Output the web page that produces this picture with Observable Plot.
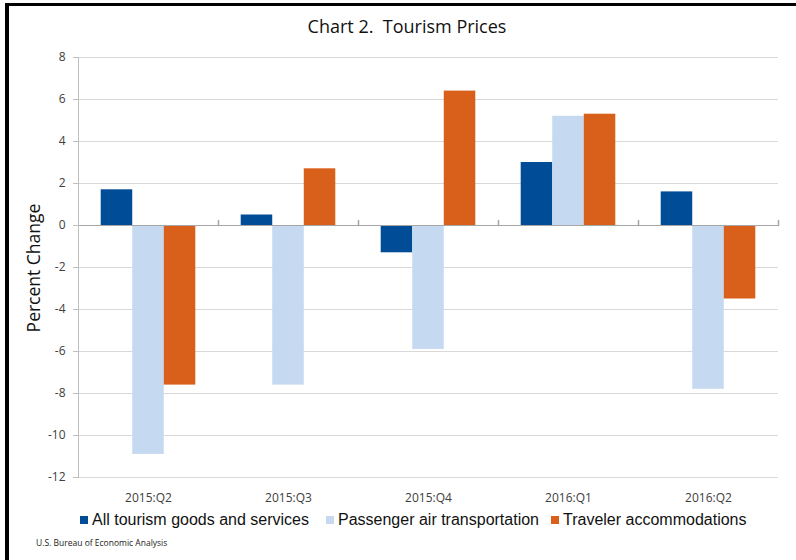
<!DOCTYPE html>
<html><head><meta charset="utf-8">
<script src="https://cdn.jsdelivr.net/npm/d3@7"></script>
<script src="https://cdn.jsdelivr.net/npm/@observablehq/plot@0.6"></script>
<style>
body{margin:0;background:#fff;}
#page{position:relative;width:796px;height:560px;overflow:hidden;font-family:"Open Sans",sans-serif;background:#fff;}
#frame{position:absolute;left:5px;top:3px;width:820px;height:600px;border-left:4px solid #000;border-top:3px solid #000;box-sizing:border-box;}
#title{position:absolute;top:14px;left:0;width:814px;text-align:center;font-size:18px;color:#111;white-space:pre;}
#ylabel{position:absolute;left:33px;top:268px;transform:translate(-50%,-50%) rotate(-90deg);font-size:17.5px;color:#111;white-space:nowrap;}
#chart{position:absolute;left:0;top:40px;}
#legend{position:absolute;top:511px;left:0;width:796px;height:22px;font-family:"Liberation Sans",Arial,sans-serif;font-size:16px;color:#111;}
#legend .item{position:absolute;top:0;white-space:nowrap;}
#legend .sw{display:inline-block;width:8px;height:8px;margin-right:4px;vertical-align:1px;}
#caption{position:absolute;left:36px;top:537px;font-size:8.5px;color:#222;white-space:nowrap;}
</style>
</head><body>
<div id="page">
  <div id="frame"></div>
  <div id="title"></div>
  <div id="ylabel"></div>
  <div id="chart"></div>
  <div id="legend"></div>
  <div id="caption"></div>
</div>
<script>
const titleText = "Chart 2.  Tourism Prices";
const yLabel = "Percent Change";
const caption = "U.S. Bureau of Economic Analysis";
const quarters = ["2015:Q2", "2015:Q3", "2015:Q4", "2016:Q1", "2016:Q2"];
const series = ["All tourism goods and services", "Passenger air transportation", "Traveler accommodations"];
const colors = ["#004C97", "#C5D9F0", "#D9601A"];
const allTourism = [1.7, 0.5, -1.3, 3.0, 1.6];
const airTransport = [-10.9, -7.6, -5.9, 5.2, -7.8];
const accommodations = [-7.6, 2.7, 6.4, 5.3, -3.5];
const yTicks = [-12, -10, -8, -6, -4, -2, 0, 2, 4, 6, 8];
const legendX = [80, 326, 551];

const valuesBySeries = [allTourism, airTransport, accommodations];
const data = [];
quarters.forEach((q, i) => series.forEach((s, j) => data.push({quarter: q, series: s, value: valuesBySeries[j][i]})));

document.getElementById("title").textContent = titleText;
document.getElementById("ylabel").textContent = yLabel;
document.getElementById("caption").textContent = caption;

const legend = document.getElementById("legend");
series.forEach((s, j) => {
  const it = document.createElement("div");
  it.className = "item";
  it.style.left = legendX[j] + "px";
  const sw = document.createElement("span");
  sw.className = "sw";
  sw.style.background = colors[j];
  it.appendChild(sw);
  it.appendChild(document.createTextNode(s));
  legend.appendChild(it);
});

const tickShape = {draw(context, l) { context.moveTo(0, 0); context.lineTo(0, -l); }};

const chart = Plot.plot({
  width: 796,
  height: 470,
  marginTop: 17,
  marginBottom: 33,
  marginLeft: 76,
  marginRight: 16,
  style: {fontFamily: "'Open Sans', sans-serif", fontSize: "12px", color: "#404040", background: "transparent"},
  fx: {domain: quarters, padding: 0, label: null, tickSize: 0, tickPadding: 16},
  x: {domain: series, paddingInner: 0, paddingOuter: 0.72, round: false, axis: null},
  y: {domain: [-12, 8], ticks: yTicks, tickFormat: d => String(d), tickSize: 5, tickPadding: 8, label: null},
  color: {domain: series, range: colors},
  marks: [
    Plot.gridY(yTicks, {stroke: "#d9d9d9", strokeOpacity: 1}),
    Plot.barY(data, {fx: "quarter", x: "series", y: "value", fill: "series"}),
    Plot.ruleY([0], {stroke: "#a6a6a6", strokeOpacity: 1}),
    Plot.vector(quarters, {fx: d => d, y: d => 0, frameAnchor: "right", length: 5, rotate: 0, anchor: "start", shape: tickShape, stroke: "#a6a6a6"}),
    Plot.frame({anchor: "left", facetAnchor: "left", stroke: "#bfbfbf"}),
    Plot.axisY({ticks: yTicks, tickFormat: d => String(d), tickSize: 5, tickPadding: 8, stroke: "#bfbfbf", fill: "#404040", label: null})
  ]
});
document.getElementById("chart").appendChild(chart);
</script>
</body></html>
